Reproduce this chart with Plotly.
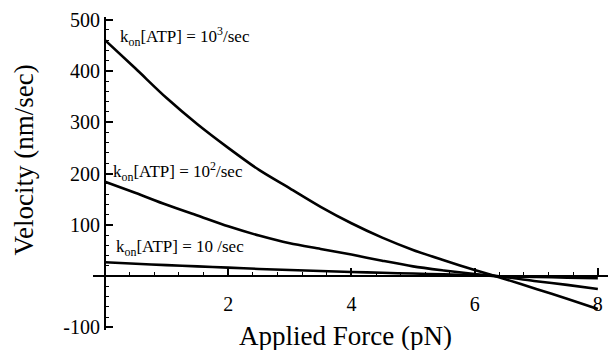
import plotly.graph_objects as go

# Applied force (pN)
force = [0, 0.5, 1, 1.5, 2, 2.5, 3, 3.5, 4, 4.5, 5, 5.5, 6, 6.5, 7, 7.5, 8]
# Velocity (nm/sec) for each kon[ATP]
v_1000 = [460, 404, 347, 296, 250, 207, 171, 135, 103, 75, 51, 31, 12, -6, -25, -44, -64]
v_100 = [184, 162, 139, 118, 97, 79, 64, 53, 42, 30, 19, 11, 4, -2, -10, -17, -25]
v_10 = [27, 24, 21.5, 19, 16.5, 14, 12, 10, 8, 6.5, 5, 3.5, 2, -0.5, -1.5, -3, -4]

labels = ["k<sub>on</sub>[ATP] = 10<sup>3</sup>/sec",
          "k<sub>on</sub>[ATP] = 10<sup>2</sup>/sec",
          "k<sub>on</sub>[ATP] = 10 /sec"]
label_x = [0.21, 0.10, 0.15]
label_y = [467, 203, 55]

y_tickvals = [-100, 0, 100, 200, 300, 400, 500]
y_ticktext = ["-100", "", "100", "200", "300", "400", "500"]
x_tickvals = [2, 4, 6, 8]
x_ticktext = ["2", "4", "6", "8"]

FONT = "Times New Roman, Liberation Serif, serif"
X_RANGE = [-0.195, 8.165]
Y_RANGE = [-105, 505]

fig = go.Figure()
for ys in (v_1000, v_100, v_10):
    fig.add_trace(go.Scatter(x=force, y=ys, mode="lines",
                             line=dict(color="black", width=2.6, shape="spline", smoothing=0.8),
                             showlegend=False, hoverinfo="skip", cliponaxis=False))

for t, lx, ly in zip(labels, label_x, label_y):
    fig.add_annotation(x=lx, y=ly, xref="x", yref="y", text=t, showarrow=False,
                       xanchor="left", yanchor="middle",
                       font=dict(family=FONT, size=17, color="black"))

fig.add_annotation(x=-0.134, y=0.545, xref="paper", yref="paper", text="Velocity (nm/sec)",
                   showarrow=False, textangle=-90, xanchor="center", yanchor="middle",
                   font=dict(family=FONT, size=27, color="black"))
fig.add_annotation(x=0.49, y=-0.02, xref="paper", yref="paper", text="Applied Force (pN)",
                   showarrow=False, xanchor="center", yanchor="middle",
                   font=dict(family=FONT, size=27, color="black"))

pos_y = (0 - X_RANGE[0]) / (X_RANGE[1] - X_RANGE[0])
pos_x = (0 - Y_RANGE[0]) / (Y_RANGE[1] - Y_RANGE[0])

fig.update_layout(
    width=608, height=350,
    margin=dict(l=93, r=0, t=17, b=19.5, pad=0),
    paper_bgcolor="white", plot_bgcolor="white",
    font=dict(family=FONT, color="black", size=20),
    xaxis=dict(range=X_RANGE, anchor="free", position=pos_x, showgrid=False, zeroline=False,
               showline=True, linecolor="black", linewidth=2,
               tickmode="array", tickvals=x_tickvals, ticktext=x_ticktext,
               ticks="inside", ticklen=7, tickwidth=2, tickcolor="black",
               ticklabelstandoff=10,
               minor=dict(tickmode="linear", tick0=0, dtick=0.4, ticks="inside",
                          ticklen=3, tickwidth=1, tickcolor="black", showgrid=False),
               tickfont=dict(family=FONT, size=20, color="black")),
    yaxis=dict(range=Y_RANGE, anchor="free", position=pos_y, showgrid=False, zeroline=False,
               showline=True, linecolor="black", linewidth=2,
               tickmode="array", tickvals=y_tickvals, ticktext=y_ticktext,
               ticks="inside", ticklen=7, tickwidth=2, tickcolor="black",
               minor=dict(tickmode="linear", tick0=0, dtick=20, ticks="inside",
                          ticklen=3, tickwidth=1, tickcolor="black", showgrid=False),
               tickfont=dict(family=FONT, size=20, color="black")),
)

fig.write_html("out.html")
